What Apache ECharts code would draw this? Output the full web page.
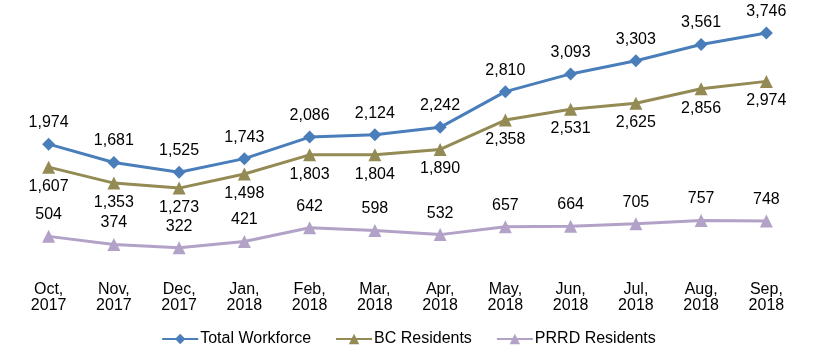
<!DOCTYPE html>
<html><head><meta charset="utf-8">
<script src="https://cdn.jsdelivr.net/npm/echarts@6/dist/echarts.min.js"></script>
<style>html,body{margin:0;padding:0;background:#fff}#c{width:817px;height:359px}</style>
</head><body><div id="c"></div>
<script>
const categories = ['Oct,\n2017','Nov,\n2017','Dec,\n2017','Jan,\n2018','Feb,\n2018','Mar,\n2018','Apr,\n2018','May,\n2018','Jun,\n2018','Jul,\n2018','Aug,\n2018','Sep,\n2018'];
const totalWorkforce = [1974,1681,1525,1743,2086,2124,2242,2810,3093,3303,3561,3746];
const bcResidents = [1607,1353,1273,1498,1803,1804,1890,2358,2531,2625,2856,2974];
const prrdResidents = [504,374,322,421,642,598,532,657,664,705,757,748];

const font = 'Arial, "Liberation Sans", sans-serif';
const fmt = p => p.value.toLocaleString('en-US');
function series(name, data, color, symbol, pos, size){
  return {name, type:'line', data, symbol, symbolSize:size,
    lineStyle:{color, width:3}, itemStyle:{color},
    label:{show:true, position:pos, distance:pos==='top'?7:5, formatter:fmt, color:'#000', fontSize:16, fontFamily:font},
    z: 2};
}
const chart = echarts.init(document.getElementById('c'));
chart.setOption({
  animation:false,
  grid:{left:16, right:18, top:17, bottom:91},
  legend:{bottom:7, itemGap:24, itemWidth:36, itemHeight:13, textStyle:{fontSize:16, fontFamily:font, color:'#000', padding:[0,0,0,-3]},
    data:['Total Workforce','BC Residents','PRRD Residents']},
  xAxis:{type:'category', data:categories, axisLine:{show:false}, axisTick:{show:false},
    axisLabel:{fontSize:16, fontFamily:font, color:'#000', lineHeight:16, margin:14, interval:0}},
  yAxis:{type:'value', min:0, max:4000, show:false, splitLine:{show:false}},
  series:[
    series('Total Workforce', totalWorkforce, '#4A7EBB', 'diamond', 'top', 13),
    series('BC Residents', bcResidents, '#948A54', 'triangle', 'bottom', 13),
    series('PRRD Residents', prrdResidents, '#B3A2C7', 'triangle', 'top', 13)
  ]
});
</script></body></html>
